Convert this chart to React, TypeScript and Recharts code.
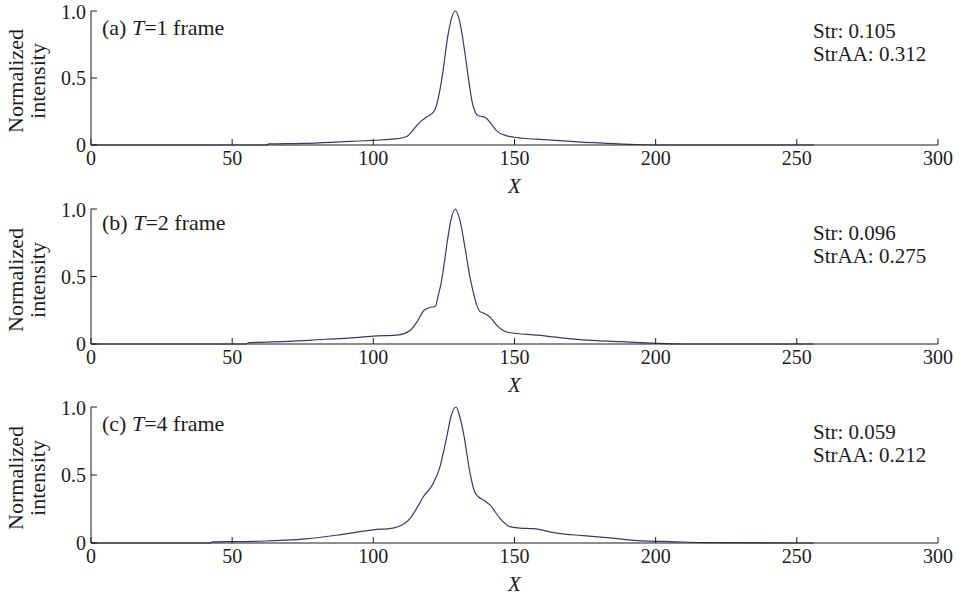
import { CartesianGrid, Line, LineChart, XAxis, YAxis } from "recharts";

// (a) T=1 frame
const xA = [0, 62, 63, 75, 85, 92, 100, 108, 112, 114, 117, 119, 121, 122, 123, 124, 125, 126, 127.5, 129, 130.5, 132, 133, 134, 135, 136, 137, 139, 140, 142, 144, 147, 150, 163, 178, 191, 200, 256];
const yA = [0, 0, 0.008, 0.012, 0.02, 0.027, 0.035, 0.045, 0.065, 0.11, 0.18, 0.21, 0.24, 0.27, 0.35, 0.46, 0.6, 0.76, 0.93, 1.0, 0.93, 0.75, 0.6, 0.45, 0.32, 0.25, 0.22, 0.21, 0.2, 0.15, 0.1, 0.07, 0.058, 0.037, 0.017, 0.005, 0, 0];

// (b) T=2 frame
const xB = [0, 55, 56, 70, 83, 92, 100, 109, 113, 115.5, 118, 120, 122, 123, 124, 125, 126, 127.5, 129, 130.5, 132.5, 134, 135, 136.6, 137.8, 139, 141.3, 143.7, 146, 148, 158, 174, 188, 200, 210, 256];
const yB = [0, 0, 0.01, 0.02, 0.035, 0.045, 0.058, 0.068, 0.1, 0.165, 0.25, 0.27, 0.28, 0.36, 0.45, 0.58, 0.73, 0.92, 1.0, 0.93, 0.71, 0.52, 0.42, 0.29, 0.24, 0.23, 0.2, 0.14, 0.1, 0.085, 0.066, 0.03, 0.017, 0.005, 0, 0];

// (c) T=4 frame
const xC = [0, 42, 43, 50, 60, 76, 88, 100, 107, 110, 113, 115.5, 117.7, 121, 123.6, 126, 127.5, 129.3, 130.6, 132, 134.2, 135.8, 137.2, 139.5, 141.3, 144.9, 148.4, 152, 156.7, 165, 174.4, 183.8, 196, 205, 218, 256];
const yC = [0, 0, 0.008, 0.01, 0.013, 0.03, 0.06, 0.097, 0.11, 0.13, 0.18, 0.26, 0.34, 0.43, 0.56, 0.78, 0.93, 1.0, 0.93, 0.8, 0.52, 0.38, 0.34, 0.31, 0.28, 0.18, 0.12, 0.11, 0.105, 0.073, 0.054, 0.037, 0.015, 0.01, 0.003, 0];

const xTicks = [0, 50, 100, 150, 200, 250, 300];
const yTicks = [0, 0.5, 1];

const tags = ["(a)", "(b)", "(c)"];
const frames = [1, 2, 4];
const strValues = ["0.105", "0.096", "0.059"];
const strAAValues = ["0.312", "0.275", "0.212"];

const FONT = '"Liberation Serif", "Times New Roman", serif';
const INK = "#1c1c1c";
const LINE = "#38386f";

const series = [
  { xs: xA, ys: yA },
  { xs: xB, ys: yB },
  { xs: xC, ys: yC }
];

const layout = [
  { top: 11, plotH: 134, tagDy: 18, strDy: 20 },
  { top: 209, plotH: 135, tagDy: 15, strDy: 24 },
  { top: 407, plotH: 136, tagDy: 18, strDy: 25 }
];

const tickStyle = { fill: INK, fontSize: 20, fontFamily: FONT };

function Panel({ index }: { index: number }) {
  const { xs, ys } = series[index];
  const data = xs.map((x, i) => ({ x, y: ys[i] }));
  const { top, plotH, tagDy, strDy } = layout[index];
  const chartTop = top - 11;
  const height = plotH + 11 + 52;
  const text = { position: "absolute" as const, fontFamily: FONT, fontSize: 21, lineHeight: "22px", color: INK, whiteSpace: "nowrap" as const };

  return (
    <div style={{ position: "absolute", left: 0, top: chartTop, width: 960, height }}>
      <LineChart width={960} height={height} data={data} margin={{ top: 11, right: 22, bottom: 0, left: 0 }}>
        <CartesianGrid stroke="none" />
        <XAxis
          xAxisId="b"
          dataKey="x"
          type="number"
          domain={[0, 300]}
          ticks={xTicks}
          height={52}
          stroke={INK}
          tickSize={-6}
          tickMargin={12}
          tick={tickStyle}
          label={{ value: "X", position: "insideBottom", offset: 4, style: { fontStyle: "italic", fontSize: 21, fontFamily: FONT, fill: INK } }}
        />
        <XAxis xAxisId="t" orientation="top" dataKey="x" type="number" domain={[0, 300]} ticks={xTicks} height={0} stroke={INK} tickSize={-6} tick={false} />
        <YAxis
          yAxisId="l"
          type="number"
          domain={[0, 1]}
          ticks={yTicks}
          width={91}
          stroke={INK}
          tickSize={-6}
          tickMargin={11}
          tick={tickStyle}
          tickFormatter={(v) => (v === 0 ? "0" : Number(v).toFixed(1))}
        />
        <YAxis yAxisId="r" orientation="right" type="number" domain={[0, 1]} ticks={yTicks} width={0} stroke={INK} tickSize={-6} tick={false} />
        <Line
          xAxisId="b"
          yAxisId="l"
          dataKey="y"
          type="monotone"
          stroke={LINE}
          strokeWidth={1.2}
          dot={false}
          isAnimationActive={false}
        />
      </LineChart>
      <div style={{ ...text, fontSize: 22, left: 102, top: 11 + tagDy - 12 }}>
        {tags[index]} <i>T</i>={frames[index]} frame
      </div>
      <div style={{ ...text, left: 813, top: 11 + strDy - 11 }}>Str: {strValues[index]}</div>
      <div style={{ ...text, left: 813, top: 11 + strDy + 12 }}>StrAA: {strAAValues[index]}</div>
      <div
        style={{
          ...text,
          fontSize: 22,
          left: 27,
          top: 11 + plotH / 2 + 3,
          transform: "translate(-50%, -50%) rotate(-90deg)",
          textAlign: "center",
          lineHeight: "22px"
        }}
      >
        Normalized
        <br />
        intensity
      </div>
    </div>
  );
}

export default function App() {
  return (
    <div style={{ position: "absolute", left: 0, top: 0, width: 960, height: 597, background: "#fff" }}>
      {[0, 1, 2].map((i) => (
        <Panel key={i} index={i} />
      ))}
    </div>
  );
}
